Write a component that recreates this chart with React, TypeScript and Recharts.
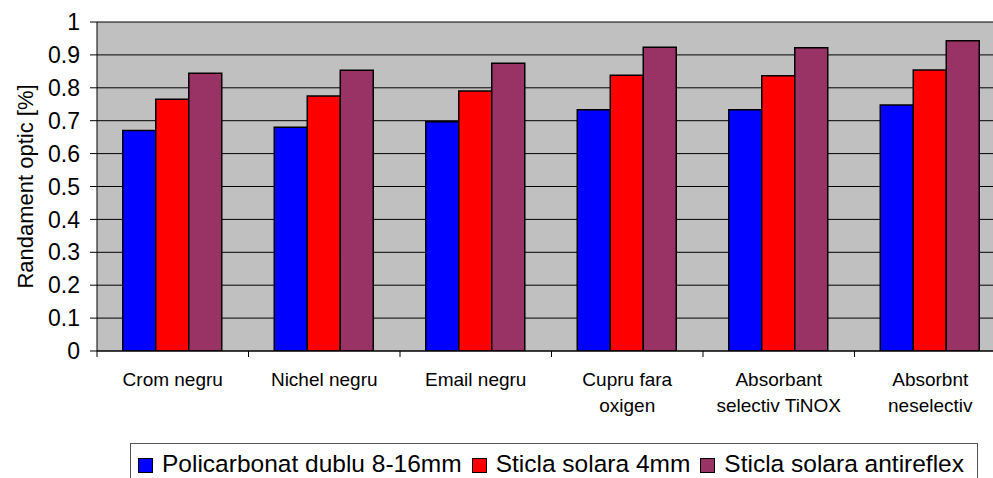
import React from "react";
import { BarChart, Bar, XAxis, YAxis, CartesianGrid } from "recharts";

const categories = [
  "Crom negru",
  "Nichel negru",
  "Email negru",
  "Cupru fara\noxigen",
  "Absorbant\nselectiv TiNOX",
  "Absorbnt\nneselectiv",
];
const policarbonat = [0.67, 0.68, 0.697, 0.733, 0.733, 0.748];
const sticla4mm = [0.765, 0.775, 0.79, 0.838, 0.837, 0.854];
const sticlaAntireflex = [0.844, 0.853, 0.875, 0.923, 0.922, 0.943];
const seriesNames = [
  "Policarbonat dublu 8-16mm",
  "Sticla solara 4mm",
  "Sticla solara antireflex",
];
const seriesColors = ["#0000FF", "#FF0000", "#993366"];
const yTicks = [0, 0.1, 0.2, 0.3, 0.4, 0.5, 0.6, 0.7, 0.8, 0.9, 1];
const yTickLabels = ["0", "0.1", "0.2", "0.3", "0.4", "0.5", "0.6", "0.7", "0.8", "0.9", "1"];
const yTitle = "Randament optic [%]";

const data = categories.map((c, i) => ({
  name: c,
  s0: policarbonat[i],
  s1: sticla4mm[i],
  s2: sticlaAntireflex[i],
}));

const FONT = "'Liberation Sans', Arial, sans-serif";

const XTick = (props: any) => {
  const { x, y, payload } = props;
  const half = payload && typeof payload.offset === "number" ? payload.offset : 75.75;
  const lines = String(payload.value).split("\n");
  return (
    <g>
      <line x1={x - half} x2={x - half} y1={y} y2={y + 6} stroke="#000" strokeWidth={1} />
      <text x={x} y={y} textAnchor="middle" fontFamily={FONT} fontSize={19} fill="#000">
        {lines.map((l, i) => (
          <tspan key={i} x={x} dy={i === 0 ? 35 : 26}>
            {l}
          </tspan>
        ))}
      </text>
    </g>
  );
};

const YTitle = (props: any) => {
  const vb = props.viewBox || { x: 0, y: 22, height: 329 };
  const cx = vb.x + 33;
  const cy = vb.y + vb.height / 2;
  return (
    <text
      transform={`translate(${cx}, ${cy}) rotate(-90)`}
      x={0}
      y={0}
      textAnchor="middle"
      fontFamily={FONT}
      fontSize={22}
      fill="#000"
    >
      {yTitle}
    </text>
  );
};

export default function App() {
  return (
    <div
      style={{
        position: "absolute",
        left: 0,
        top: 0,
        width: 993,
        height: 478,
        overflow: "hidden",
        background: "#fff",
      }}
    >
      <BarChart
        width={1010}
        height={478}
        data={data}
        margin={{ top: 22, right: 4, left: 0, bottom: 0 }}
        barCategoryGap="17%"
        barGap={0}
      >
        <CartesianGrid vertical={false} stroke="#000" strokeOpacity={1} fill="#C0C0C0" fillOpacity={1} />
        <XAxis
          dataKey="name"
          height={127}
          tickLine={false}
          tickSize={0}
          tickMargin={0}
          axisLine={{ stroke: "#000", strokeWidth: 1 }}
          tick={<XTick />}
          interval={0}
        />
        <YAxis
          width={97}
          domain={[0, 1]}
          ticks={yTicks}
          tickFormatter={(v: number) => yTickLabels[yTicks.indexOf(v)] ?? String(v)}
          tickSize={7}
          tickMargin={10}
          interval={0}
          allowDataOverflow
          axisLine={{ stroke: "#000", strokeWidth: 1 }}
          tickLine={{ stroke: "#000", strokeWidth: 1 }}
          tick={{ fill: "#000", fontSize: 23, fontFamily: FONT }}
          label={<YTitle />}
        />
        {["s0", "s1", "s2"].map((k, i) => (
          <Bar
            key={k}
            dataKey={k}
            name={seriesNames[i]}
            fill={seriesColors[i]}
            stroke="#000"
            strokeWidth={1.5}
            isAnimationActive={false}
          />
        ))}
      </BarChart>
      <div
        style={{
          position: "absolute",
          left: 130,
          top: 443,
          width: 839,
          height: 60,
          border: "1px solid #555",
          boxSizing: "content-box",
          fontFamily: FONT,
          fontSize: 24.5,
          color: "#000",
          display: "flex",
          alignItems: "flex-start",
          paddingTop: 6,
          paddingLeft: 7,
          whiteSpace: "nowrap",
        }}
      >
        {seriesNames.map((n, i) => (
          <div key={n} style={{ display: "flex", alignItems: "center", marginRight: 10, lineHeight: "28px" }}>
            <span
              style={{
                display: "inline-block",
                width: 13,
                height: 13,
                background: seriesColors[i],
                border: "1px solid #000",
                marginRight: 9,
                marginTop: 2,
              }}
            />
            <span>{n}</span>
          </div>
        ))}
      </div>
    </div>
  );
}
